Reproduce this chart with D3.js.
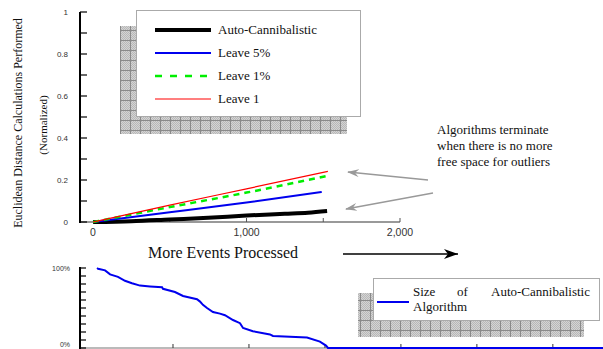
<!DOCTYPE html>
<html>
<head>
<meta charset="utf-8">
<script src="https://cdn.jsdelivr.net/npm/d3@7"></script>
<style>
  body { margin: 0; background: #fff; }
  svg { display: block; }
</style>
</head>
<body>
<div id="chart"></div>
<script>
// top panel: distance calculations (normalized) vs events processed
const seriesNames = ["Auto-Cannibalistic", "Leave 5%", "Leave 1%", "Leave 1"];
const autoX  = [0, 250, 500, 750, 1000, 1250, 1400, 1525];
const autoY  = [0, 0.004, 0.012, 0.02, 0.031, 0.039, 0.044, 0.052];
const leave5X = [0, 500, 1000, 1490];
const leave5Y = [0, 0.046, 0.093, 0.143];
const leave1pX = [0, 500, 1000, 1530];
const leave1pY = [0, 0.071, 0.140, 0.220];
const leave1X = [0, 500, 1000, 1530];
const leave1Y = [0, 0.08, 0.158, 0.241];
const topYTicks = [0, 0.2, 0.4, 0.6, 0.8, 1];
const topXTicks = [0, 1000, 2000];

// bottom panel: size of auto-cannibalistic algorithm (%)
const sizeX = [0, 7, 53, 86, 138, 184, 230, 283, 349, 428, 434, 513, 566, 658, 678, 697, 724, 763, 809,
  842, 895, 941, 961, 1026, 1138, 1158, 1382, 1467, 1507, 1520, 3330];
const sizeY = [100, 99, 97, 92, 89, 84, 81, 78, 77, 76, 74, 70, 65, 61, 58, 54, 50, 45, 43,
  41, 35, 31, 25, 21, 17, 15, 13, 8, 3, 0, 0];
const annotation = ["Algorithms terminate", "when there is no more", "free space for outliers"];

const SERIF = "'Liberation Serif', 'Times New Roman', Times, 'DejaVu Serif', serif";
const SANS = "'Liberation Sans', Arial, Helvetica, sans-serif";

const W = 603, H = 349;
const svg = d3.select("#chart").append("svg").attr("width", W).attr("height", H);

const defs = svg.append("defs");
const checker = defs.append("pattern").attr("id", "checker")
  .attr("width", 2).attr("height", 2).attr("patternUnits", "userSpaceOnUse");
checker.append("rect").attr("width", 2).attr("height", 2).attr("fill", "#d4d4d4");
checker.append("rect").attr("width", 1).attr("height", 1).attr("fill", "#b8b8b8");
checker.append("rect").attr("x", 1).attr("y", 1).attr("width", 1).attr("height", 1).attr("fill", "#b8b8b8");
const grid = defs.append("pattern").attr("id", "grid")
  .attr("width", 10).attr("height", 10).attr("patternUnits", "userSpaceOnUse");
grid.append("path").attr("d", "M0,0.5H10M0.5,0V10").attr("stroke", "#8a8a8a").attr("stroke-width", 1);

defs.append("marker").attr("id", "grayHead")
  .attr("viewBox", "0 0 12 8").attr("refX", 11).attr("refY", 4)
  .attr("markerWidth", 12).attr("markerHeight", 8).attr("markerUnits", "userSpaceOnUse")
  .attr("orient", "auto")
  .append("path").attr("d", "M0,0L12,4L0,8L4,4Z").attr("fill", "#999");
defs.append("marker").attr("id", "blackHead")
  .attr("viewBox", "0 0 14 10").attr("refX", 14).attr("refY", 5)
  .attr("markerWidth", 14).attr("markerHeight", 10).attr("markerUnits", "userSpaceOnUse")
  .attr("orient", "auto")
  .append("path").attr("d", "M0,0L14,5L0,10L4,5Z").attr("fill", "#000");

function shadowBox(x, y, w, h) {
  svg.append("rect").attr("x", x).attr("y", y).attr("width", w).attr("height", h).attr("fill", "url(#checker)");
  svg.append("rect").attr("x", x).attr("y", y).attr("width", w).attr("height", h).attr("fill", "url(#grid)");
}

function serifText(x, y, size, str) {
  return svg.append("text")
    .attr("x", x).attr("y", y)
    .attr("font-family", SERIF)
    .attr("font-size", size)
    .attr("fill", "#111")
    .text(str);
}

// ---------- top panel ----------
const xTop = d3.scaleLinear().domain([-85, 2000]).range([80, 400]);
const yTop = d3.scaleLinear().domain([0, 1]).range([222, 12]);

// legend shadow sits behind everything
shadowBox(120, 26, 227, 108);

svg.append("line")
  .attr("x1", 80).attr("x2", 400).attr("y1", yTop(0)).attr("y2", yTop(0))
  .attr("stroke", "#777").attr("stroke-width", 1.5);
svg.selectAll(".xtickTop")
  .data([500, 1000, 1500, 2000])
  .enter().append("line")
  .attr("x1", d => xTop(d)).attr("x2", d => xTop(d))
  .attr("y1", yTop(0)).attr("y2", yTop(0) - 4)
  .attr("stroke", "#555").attr("stroke-width", 1);
svg.selectAll(".xlabTop")
  .data(topXTicks)
  .enter().append("text")
  .attr("x", d => xTop(d)).attr("y", 236)
  .attr("text-anchor", "middle")
  .attr("font-family", SANS).attr("fill", "#333")
  .attr("font-size", 10.5)
  .text(d => d3.format(",")(d));

svg.append("line")
  .attr("x1", 80).attr("x2", 80).attr("y1", yTop(1)).attr("y2", yTop(0) + 1)
  .attr("stroke", "#000").attr("stroke-width", 2);
svg.selectAll(".ytickTop")
  .data(d3.range(0, 11).map(i => i / 10))
  .enter().append("line")
  .attr("x1", 80).attr("x2", 87)
  .attr("y1", d => yTop(d)).attr("y2", d => yTop(d))
  .attr("stroke", "#000").attr("stroke-width", 1.2);
svg.selectAll(".ylabTop")
  .data(topYTicks)
  .enter().append("text")
  .attr("x", 68).attr("y", d => yTop(d) + 3)
  .attr("text-anchor", "end")
  .attr("font-family", SANS).attr("fill", "#333")
  .attr("font-size", 8)
  .text(d => d);

// ylabel
serifText(0, 0, 12, "Euclidean Distance Calculations Performed")
  .attr("transform", "translate(22,123) rotate(-90)")
  .attr("text-anchor", "middle");
serifText(0, 0, 11, "(Normalized)")
  .attr("transform", "translate(47,125) rotate(-90)")
  .attr("text-anchor", "middle");

const lineTop = d3.line()
  .x(d => xTop(d[0]))
  .y(d => yTop(d[1]))
  .curve(d3.curveMonotoneX);

const styles = [
  { color: "#000", width: 4, dash: null, legDash: null },
  { color: "#0000ee", width: 2, dash: null, legDash: null },
  { color: "#00ee00", width: 2.5, dash: "6,5", legDash: "7,8" },
  { color: "#ff0000", width: 1.2, dash: null, legDash: null }
];
const topSeries = [
  d3.zip(autoX, autoY),
  d3.zip(leave5X, leave5Y),
  d3.zip(leave1pX, leave1pY),
  d3.zip(leave1X, leave1Y)
];
topSeries.forEach((s, i) => {
  svg.append("path")
    .datum(s)
    .attr("d", lineTop)
    .attr("fill", "none")
    .attr("stroke", styles[i].color)
    .attr("stroke-width", styles[i].width)
    .attr("stroke-dasharray", styles[i].dash);
});

// legend box
svg.append("rect")
  .attr("x", 136.5).attr("y", 10.5).attr("width", 224).attr("height", 106)
  .attr("fill", "#fff").attr("stroke", "#aaa").attr("stroke-width", 1);
seriesNames.forEach((name, i) => {
  const y = 30 + i * 23;
  svg.append("line")
    .attr("x1", 155).attr("x2", 211).attr("y1", y).attr("y2", y)
    .attr("stroke", styles[i].color)
    .attr("stroke-width", styles[i].width)
    .attr("stroke-dasharray", styles[i].legDash);
  serifText(218, y + 4, 13, name);
});

// annotation
annotation.forEach((line, i) => serifText(437, 134 + i * 16, 13, line));
svg.append("line")
  .attr("x1", 428).attr("y1", 180).attr("x2", 348).attr("y2", 172)
  .attr("stroke", "#999").attr("stroke-width", 1.3)
  .attr("marker-end", "url(#grayHead)");
svg.append("line")
  .attr("x1", 433).attr("y1", 193).attr("x2", 346).attr("y2", 209)
  .attr("stroke", "#999").attr("stroke-width", 1.3)
  .attr("marker-end", "url(#grayHead)");

// x label + arrow
serifText(223, 258, 16, "More Events Processed").attr("text-anchor", "middle");
svg.append("line")
  .attr("x1", 343).attr("y1", 254).attr("x2", 458).attr("y2", 254)
  .attr("stroke", "#000").attr("stroke-width", 1.3)
  .attr("marker-end", "url(#blackHead)");

// ---------- bottom panel ----------
const xBot = d3.scaleLinear().domain([-112, 3330]).range([80, 603]);
const yBot = d3.scaleLinear().domain([0, 100]).range([348, 268]);

shadowBox(358, 293, 226, 44);

svg.append("line")
  .attr("x1", 80).attr("x2", 603).attr("y1", yBot(0)).attr("y2", yBot(0))
  .attr("stroke", "#777").attr("stroke-width", 1.2);
svg.selectAll(".xtickBot")
  .data(d3.range(500, 3500, 500))
  .enter().append("line")
  .attr("x1", d => xBot(d)).attr("x2", d => xBot(d))
  .attr("y1", yBot(0)).attr("y2", yBot(0) - 4)
  .attr("stroke", "#333").attr("stroke-width", 1);

svg.append("line")
  .attr("x1", 80).attr("x2", 80).attr("y1", yBot(100) - 1).attr("y2", yBot(0) + 1)
  .attr("stroke", "#000").attr("stroke-width", 2);
svg.selectAll(".ytickBot")
  .data(d3.range(0, 110, 10))
  .enter().append("line")
  .attr("x1", 80).attr("x2", 86)
  .attr("y1", d => yBot(d)).attr("y2", d => yBot(d))
  .attr("stroke", "#000").attr("stroke-width", 1.2);
svg.selectAll(".ylabBot")
  .data([0, 100])
  .enter().append("text")
  .attr("x", 70).attr("y", d => yBot(d) + (d === 0 ? -1 : 3))
  .attr("text-anchor", "end")
  .attr("font-family", SANS).attr("fill", "#333")
  .attr("font-size", 7)
  .text(d => d + "%");

const lineBot = d3.line()
  .x(d => xBot(d[0]))
  .y(d => yBot(d[1]));
svg.append("path")
  .datum(d3.zip(sizeX, sizeY))
  .attr("d", lineBot)
  .attr("fill", "none")
  .attr("stroke", "#0000ee")
  .attr("stroke-width", 2);

// bottom legend
svg.append("rect")
  .attr("x", 373.5).attr("y", 278.5).attr("width", 226).attr("height", 42)
  .attr("fill", "#fff").attr("stroke", "#aaa").attr("stroke-width", 1);
svg.append("line")
  .attr("x1", 377).attr("x2", 409).attr("y1", 302).attr("y2", 302)
  .attr("stroke", "#0000ee").attr("stroke-width", 2);
const legWords = [["Size", 413], ["of", 457], ["Auto-Cannibalistic", 491]];
legWords.forEach(w => serifText(w[1], 296, 13, w[0]));
serifText(413, 311, 13, "Algorithm");
</script>
</body>
</html>
